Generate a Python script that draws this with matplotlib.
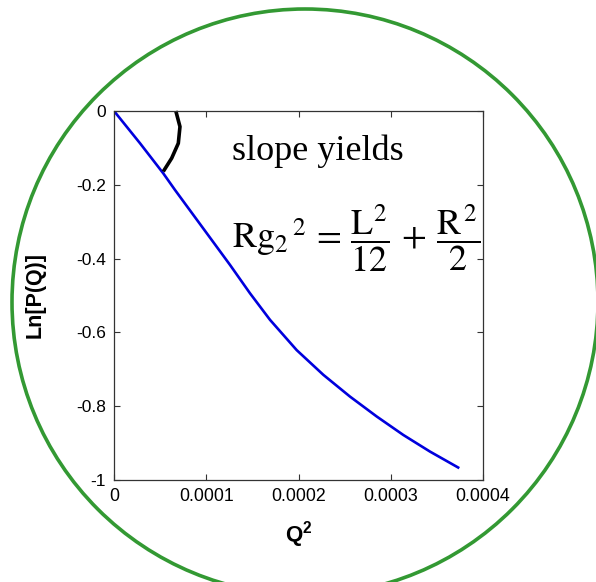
import numpy as np
import matplotlib.pyplot as plt
from matplotlib.patches import Ellipse

plt.rcParams['font.family'] = ['Liberation Sans', 'DejaVu Sans']
plt.rcParams['mathtext.fontset'] = 'custom'
plt.rcParams['mathtext.rm'] = 'Liberation Sans'
plt.rcParams['mathtext.bf'] = 'Liberation Sans:bold'

# Ln P(Q) against Q^2
q2 = [0, 2.82e-5, 5.34e-5, 6.61e-5, 1.257e-4, 1.474e-4, 1.691e-4, 1.980e-4,
      2.269e-4, 2.558e-4, 2.848e-4, 3.136e-4, 3.425e-4, 3.743e-4]
ln_p = [0, -0.0875, -0.169, -0.214, -0.417, -0.494, -0.566, -0.648,
        -0.715, -0.774, -0.828, -0.878, -0.923, -0.968]

# little arc marking the initial slope
arc_x = [6.7e-5, 7.15e-5, 6.97e-5, 6.25e-5, 5.34e-5]
arc_y = [0, -0.0425, -0.0875, -0.128, -0.164]

xticks = [0, 0.0001, 0.0002, 0.0003, 0.0004]
xticklabels = ['0', '0.0001', '0.0002', '0.0003', '0.0004']
yticks = [0, -0.2, -0.4, -0.6, -0.8, -1]
yticklabels = ['0', '-0.2', '-0.4', '-0.6', '-0.8', '-1']


def main():
    fig = plt.figure(figsize=(5.96, 5.82), dpi=100)
    ax = fig.add_axes([0.1913, 0.1753, 0.6191, 0.634])

    ax.plot(q2, ln_p, color='#0000dd', lw=1.9, solid_capstyle='butt')
    ax.plot(arc_x, arc_y, color='black', lw=2.6, solid_capstyle='butt', clip_on=False)

    ax.set_xlim(0, 0.0004)
    ax.set_ylim(-1, 0)
    ax.set_xticks(xticks)
    ax.set_xticklabels(xticklabels, fontsize=12.8)
    ax.set_yticks(yticks)
    ax.set_yticklabels(yticklabels, fontsize=12.5)
    ax.tick_params(direction='in', top=True, right=True, length=4, width=0.8,
                   color='#333333', pad=6)
    for sp in ax.spines.values():
        sp.set_linewidth(0.9)
        sp.set_color('#333333')

    ax.set_xlabel(r'Q$^{\mathbf{2}}$', fontsize=16, fontweight='bold', labelpad=10)
    ax.set_ylabel('Ln[P(Q)]', fontsize=15.5, fontweight='bold', labelpad=22)

    ax.text(0.319, 0.867, 'slope yields', transform=ax.transAxes,
            family='Liberation Serif', fontsize=26, ha='left', va='baseline')
    ax.text(0.319, 0.655,
            r'$\mathrm{Rg_2}^{\,2}\,=\,\dfrac{\mathrm{L}^2}{12}\,+\,\dfrac{\mathrm{R}^{\,2}}{2}$',
            transform=ax.transAxes, fontsize=26, ha='left', va='center',
            math_fontfamily='stix')

    # green ring drawn over the whole figure
    ring = Ellipse((305 / 596, 1 - 302 / 582), 2 * 293 / 596, 2 * 293 / 582,
                   transform=fig.transFigure, fill=False, edgecolor='#339933',
                   lw=2.6, clip_on=False)
    fig.patches.append(ring)

    fig.savefig('out.png', dpi=100)


if __name__ == "__main__":
    main()
